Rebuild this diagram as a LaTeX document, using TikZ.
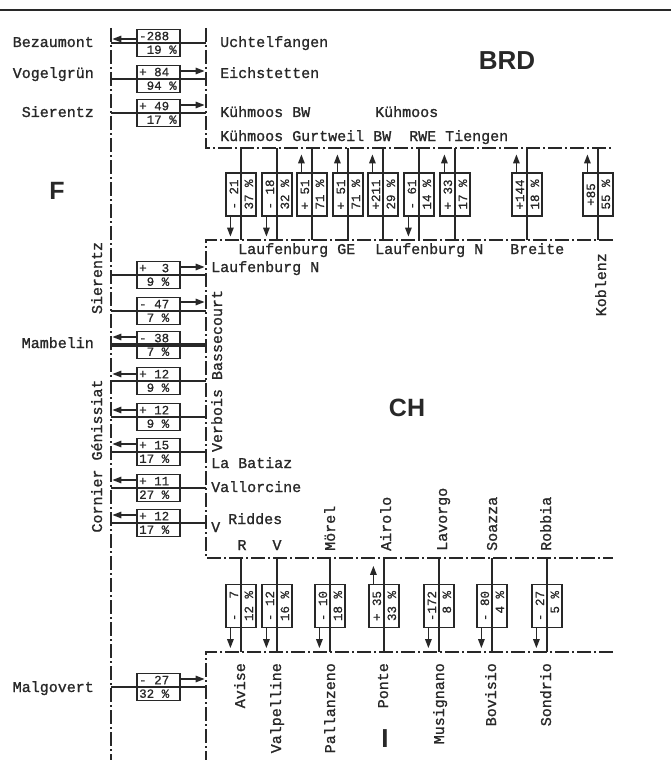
\documentclass[tikz,border=0pt]{standalone}
\usepackage{fontspec}
\newfontfamily\twf[FakeBold=1.2]{Liberation Mono}
\newfontfamily\twn[FakeBold=0.8]{Liberation Mono}
\newfontfamily\bsf{Liberation Sans}
\usetikzlibrary{arrows.meta,calc}
\definecolor{ink}{RGB}{40,40,40}
\tikzset{
 lab/.style={font=\twf\fontsize{15}{15}\selectfont, inner sep=0pt, text height=12pt, text depth=2pt},
 num/.style={font=\twn\fontsize{12.5}{12.5}\selectfont, inner sep=0pt, text height=9pt, text depth=1pt},
 big/.style={font=\bsf\bfseries\fontsize{25}{25}\selectfont, inner sep=0pt},
 sect/.style={line width=1.5pt, dash pattern=on 14pt off 3pt on 2pt off 3pt},
 wthin/.style={line width=1.4pt},
 wthick/.style={line width=2.8pt},
 wheavy/.style={line width=3.6pt},
 lrbox/.style={draw, line width=1.2pt, minimum width=43pt, minimum height=27pt, inner sep=0pt},
 vrbox/.style={draw, line width=1.2pt, minimum width=30pt, minimum height=43pt, inner sep=0pt},
 arr/.style={-{Triangle[length=9pt,width=6.5pt]}, line width=1.4pt},
}
% #1 name #2 y #3 top #4 bottom #5 line style #6 dir (0 left, 1 right) #7 arrow offset
\newcommand{\Lrow}[7]{%
  \draw[#5] (111,#2) -- (206,#2);
  \node[lrbox] (#1) at (158.5,#2) {};
  \node[num,anchor=west] at (139,#2-6.8) {#3};
  \node[num,anchor=west] at (139,#2+6.8) {#4};
  \ifnum#6=0
    \draw[arr] ($(#1.west)+(0,-#7)$) -- ($(#1.west)+(-24,-#7)$);
  \else
    \draw[arr] ($(#1.east)+(0,-#7)$) -- ($(#1.east)+(24,-#7)$);
  \fi
}
% #1 name #2 cx #3 cy #4 y1 #5 y2 #6 left text #7 right text #8 line style #9 dir (1 up, 0 down)
\newcommand{\Vrow}[9]{%
  \draw[#8] (#2,#4) -- (#2,#5);
  \node[vrbox] (#1) at (#2,#3) {};
  \node[num,rotate=90] at (#2-7,#3) {#6};
  \node[num,rotate=90] at (#2+8,#3) {#7};
  \ifnum#9=1
    \draw[arr] ($(#1.north west)+(5,0)$) -- ($(#1.north west)+(5,-18)$);
  \else
    \draw[arr] ($(#1.south west)+(5,0)$) -- ($(#1.south west)+(5,20)$);
  \fi
}
\begin{document}
\begin{tikzpicture}[x=1pt,y=-1pt,color=ink,text=ink]
\useasboundingbox (0,0) rectangle (671,765);
% top rule
\coordinate (T0) at (0,10); \coordinate (T1) at (671,10);
\draw[line width=2.4pt] (T0) -- (T1);
% section boundaries
\coordinate (L0) at (111,28); \coordinate (L1) at (111,760);
\coordinate (R0) at (206,28); \coordinate (A) at (206,148); \coordinate (A2) at (613,148);
\coordinate (B) at (613,240); \coordinate (B0) at (206,240); \coordinate (C0) at (206,558); \coordinate (C) at (613,558);
\coordinate (D0) at (613,652); \coordinate (D) at (206,652); \coordinate (E) at (206,760);
\draw[sect] (L0) -- (L1);
\draw[sect] (R0) -- (A) -- (A2);
\draw[sect] (B) -- (B0) -- (C0) -- (C);
\draw[sect] (D0) -- (D) -- (E);
% left column rows
\Lrow{bez}{43}{-288}{~19~\%}{wthick}{0}{4}
\Lrow{vog}{79}{+~84}{~94~\%}{wthin}{1}{8}
\Lrow{sie}{113}{+~49}{~17~\%}{wthick}{1}{8}
\Lrow{ra}{275}{+~~3}{~9~\%}{wthick}{1}{8}
\Lrow{rb}{311}{-~47}{~7~\%}{wthick}{1}{9}
\Lrow{rc}{345}{-~38}{~7~\%}{wheavy}{0}{8}
\Lrow{rd}{381}{+~12}{~9~\%}{wthin}{0}{7}
\Lrow{re}{417}{+~12}{~9~\%}{wthin}{0}{7}
\Lrow{rf}{452}{+~15}{17~\%}{wthin}{0}{8}
\Lrow{rg}{488}{+~11}{27~\%}{wthin}{0}{8}
\Lrow{rh}{523}{+~12}{17~\%}{wthin}{0}{8}
\Lrow{mal}{687}{-~27}{32~\%}{wthin}{1}{8}
% upper (BRD) vertical rows
\Vrow{ba}{241}{194.5}{148}{240}{-~21}{37~\%}{wthin}{0}
\Vrow{bb}{277}{194.5}{148}{240}{-~18}{32~\%}{wthin}{0}
\Vrow{bc}{312}{194.5}{148}{240}{+~51}{71~\%}{wthin}{1}
\Vrow{bd}{348}{194.5}{148}{240}{+~51}{71~\%}{wthin}{1}
\Vrow{be}{383}{194.5}{148}{240}{+211}{29~\%}{wthick}{1}
\Vrow{bf}{419}{194.5}{148}{240}{-~61}{14~\%}{wthick}{0}
\Vrow{bg}{455}{194.5}{148}{240}{+~33}{17~\%}{wthick}{1}
\Vrow{bh}{527}{194.5}{148}{240}{+144}{18~\%}{wthin}{1}
\Vrow{bi}{598}{194.5}{148}{240}{+85}{55~\%}{wthin}{1}
% lower (I) vertical rows
\Vrow{ca}{241}{606}{558}{652}{-~~7}{12~\%}{wthin}{0}
\Vrow{cb}{277}{606}{558}{652}{-~12}{16~\%}{wthin}{0}
\Vrow{cc}{330}{606}{558}{652}{-~10}{18~\%}{wthin}{0}
\Vrow{cd}{384}{606}{558}{652}{+~35}{33~\%}{wthin}{1}
\Vrow{ce}{439}{606}{558}{652}{-172}{~8~\%}{wthick}{0}
\Vrow{cf}{492}{606}{558}{652}{-~80}{~4~\%}{wthick}{0}
\Vrow{cg}{547}{606}{558}{652}{-~27}{~5~\%}{wthin}{0}
% left labels
\node[lab,anchor=east] (lbez) at (94,42) {Bezaumont};
\node[lab,anchor=east] (lvog) at (94,73) {Vogelgrün};
\node[lab,anchor=east] (lsie) at (94,112) {Sierentz};
\node[lab,anchor=east] (lmam) at (94,343) {Mambelin};
\node[lab,anchor=east] (lmal) at (94,687) {Malgovert};
\node[lab,rotate=90] (lsie2) at (97,278) {Sierentz};
\node[lab,rotate=90] (lcor) at (97,456) {Cornier Génissiat};
% right of left column
\node[lab,anchor=west] (luch) at (220,42) {Uchtelfangen};
\node[lab,anchor=west] (leich) at (220,73) {Eichstetten};
\node[lab,anchor=west] (lkbw) at (220,112) {Kühmoos BW};
\node[lab,anchor=west] (lk2) at (375,112) {Kühmoos};
\node[lab,anchor=west] (lkg) at (220,136) {Kühmoos Gurtweil BW~~RWE Tiengen};
\node[lab,anchor=west] (llge) at (238,249) {Laufenburg GE};
\node[lab,anchor=west] (lln) at (375,249) {Laufenburg N};
\node[lab,anchor=west] (lbr) at (510,249) {Breite};
\node[lab,rotate=90,anchor=east] (lkob) at (601,253) {Koblenz};
\node[lab,anchor=west] (lln2) at (211,267) {Laufenburg N};
\node[lab,rotate=90] (lver) at (217,371) {Verbois Bassecourt};
\node[lab,anchor=west] (lbat) at (211,463) {La Batiaz};
\node[lab,anchor=west] (lval) at (211,487) {Vallorcine};
\node[lab,anchor=west] (lv1) at (211,527) {V};
\node[lab,anchor=west] (lrid) at (228,519) {Riddes};
\node[lab] (lr) at (242,545) {R};
\node[lab] (lv2) at (277,545) {V};
% upper rotated labels (CH)
\node[lab,rotate=90,anchor=west] (lmor) at (330,551) {Mörel};
\node[lab,rotate=90,anchor=west] (lair) at (386,551) {Airolo};
\node[lab,rotate=90,anchor=west] (llav) at (442,551) {Lavorgo};
\node[lab,rotate=90,anchor=west] (lsoa) at (492,551) {Soazza};
\node[lab,rotate=90,anchor=west] (lrob) at (546,551) {Robbia};
% lower rotated labels (I)
\node[lab,rotate=90,anchor=east] (lavi) at (240,663) {Avise};
\node[lab,rotate=90,anchor=east] (lvalp) at (276,663) {Valpelline};
\node[lab,rotate=90,anchor=east] (lpal) at (330,663) {Pallanzeno};
\node[lab,rotate=90,anchor=east] (lpon) at (383,663) {Ponte};
\node[lab,rotate=90,anchor=east] (lmus) at (439,663) {Musignano};
\node[lab,rotate=90,anchor=east] (lbov) at (491,663) {Bovisio};
\node[lab,rotate=90,anchor=east] (lson) at (546,663) {Sondrio};
% country labels
\node[big] (cF) at (57,191) {F};
\node[big,font=\bsf\bfseries\fontsize{26}{26}\selectfont] (cBRD) at (507,61) {BRD};
\node[big] (cCH) at (407,408) {CH};
\node[big,font=\bsf\bfseries\fontsize{26}{26}\selectfont] (cI) at (385,739) {I};
\end{tikzpicture}
\end{document}
